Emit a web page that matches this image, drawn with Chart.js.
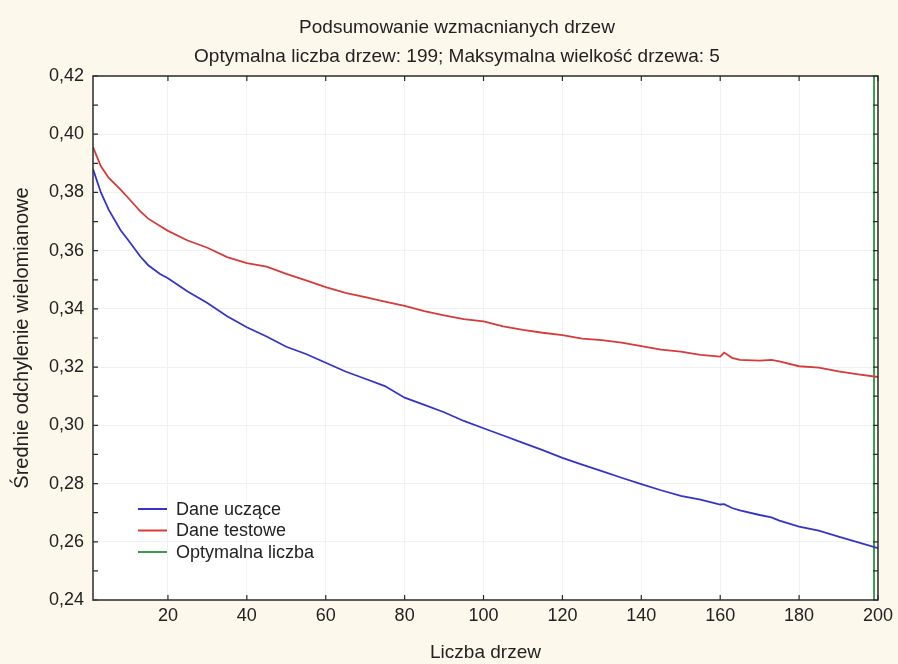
<!DOCTYPE html>
<html>
<head>
<meta charset="utf-8">
<script src="https://cdn.jsdelivr.net/npm/chart.js@4.4.1/dist/chart.umd.min.js"></script>
<style>
  html, body { margin: 0; padding: 0; background: #fcf8ec; }
  #wrap { width: 898px; height: 664px; }
</style>
</head>
<body>
<div id="wrap"><canvas id="chart" width="898" height="664"></canvas></div>
<script>
// number of trees (x) at which values were read
const trees = [1, 3, 5, 8, 10, 13, 15, 18, 20, 25, 30, 35, 40, 45, 50, 55, 60, 65, 70, 75, 80, 85, 90, 95, 100,
  105, 110, 115, 120, 125, 130, 135, 140, 145, 150, 155, 160, 161, 163, 165, 170, 173, 175, 180, 185, 190, 195, 200];

// Dane uczące (training)
const trainValues = [0.388, 0.380, 0.374, 0.367, 0.3635, 0.358, 0.355, 0.352, 0.3505, 0.346, 0.342, 0.3375, 0.3337,
  0.3305, 0.327, 0.3245, 0.3215, 0.3185, 0.316, 0.3135, 0.3095, 0.307, 0.3045, 0.3015, 0.299,
  0.2965, 0.294, 0.2915, 0.2888, 0.2865, 0.2843, 0.282, 0.2798, 0.2777, 0.2758, 0.2745, 0.2728, 0.2729, 0.2716,
  0.2708, 0.2692, 0.2684, 0.2673, 0.2652, 0.2638, 0.2618, 0.2598, 0.2578];

// Dane testowe (test)
const testValues = [0.3956, 0.389, 0.385, 0.381, 0.378, 0.3735, 0.371, 0.3685, 0.3668, 0.3635, 0.361, 0.3578, 0.3557,
  0.3545, 0.352, 0.3498, 0.3475, 0.3455, 0.344, 0.3425, 0.341, 0.3392, 0.3378, 0.3365, 0.3357,
  0.334, 0.3328, 0.3318, 0.331, 0.3298, 0.3293, 0.3284, 0.3272, 0.326, 0.3253, 0.3242, 0.3236, 0.325, 0.3232,
  0.3225, 0.3222, 0.3225, 0.322, 0.3203, 0.3198, 0.3185, 0.3175, 0.3166];

const optimalTrees = 199;
const xTicks = [20, 40, 60, 80, 100, 120, 140, 160, 180, 200];
const yTicks = [0.24, 0.26, 0.28, 0.30, 0.32, 0.34, 0.36, 0.38, 0.40, 0.42];
const yMinorTicks = [0.25, 0.27, 0.29, 0.31, 0.33, 0.35, 0.37, 0.39, 0.41];
const titleLines = ['Podsumowanie wzmacnianych drzew', 'Optymalna liczba drzew: 199; Maksymalna wielkość drzewa: 5'];

const toPoints = (xs, ys) => xs.map((x, i) => ({ x: x, y: ys[i] }));

// background, title, frame, inward tick marks, legend inside plot
const decor = {
  id: 'decor',
  beforeDraw(chart) {
    const { ctx, chartArea: a } = chart;
    ctx.save();
    ctx.fillStyle = '#fcf8ec';
    ctx.fillRect(0, 0, chart.width, chart.height);
    ctx.fillStyle = '#ffffff';
    ctx.fillRect(a.left, a.top, a.right - a.left, a.bottom - a.top);
    ctx.fillStyle = '#222';
    ctx.font = '19px "Liberation Sans", Arial, sans-serif';
    ctx.textAlign = 'center';
    ctx.textBaseline = 'middle';
    titleLines.forEach((t, i) => ctx.fillText(t, 457, 28 + i * 29));
    ctx.restore();
  },
  afterDraw(chart) {
    const { ctx, chartArea: a, scales } = chart;
    ctx.save();
    ctx.strokeStyle = '#2b2b2b';
    ctx.lineWidth = 1.5;
    ctx.strokeRect(a.left, a.top, a.right - a.left, a.bottom - a.top);
    ctx.lineWidth = 1.2;
    ctx.beginPath();
    xTicks.forEach(v => {
      const px = scales.x.getPixelForValue(v);
      ctx.moveTo(px, a.bottom); ctx.lineTo(px, a.bottom - 5);
      ctx.moveTo(px, a.top); ctx.lineTo(px, a.top + 5);
    });
    yTicks.concat(yMinorTicks).forEach(v => {
      const py = scales.y.getPixelForValue(v);
      ctx.moveTo(a.left, py); ctx.lineTo(a.left + 5, py);
      ctx.moveTo(a.right, py); ctx.lineTo(a.right - 5, py);
    });
    ctx.stroke();

    // legend
    const items = chart.data.datasets;
    ctx.font = '18px "Liberation Sans", Arial, sans-serif';
    ctx.textBaseline = 'middle';
    ctx.fillStyle = '#222';
    items.forEach((ds, i) => {
      const y = 509 + i * 21.5;
      ctx.strokeStyle = ds.borderColor;
      ctx.lineWidth = 2;
      ctx.beginPath();
      ctx.moveTo(138, y); ctx.lineTo(167, y);
      ctx.stroke();
      ctx.fillText(ds.label, 176, y + 1);
    });
    ctx.restore();
  }
};

new Chart(document.getElementById('chart'), {
  type: 'line',
  data: {
    datasets: [
      {
        label: 'Dane uczące',
        data: toPoints(trees, trainValues),
        borderColor: '#3434c8',
        borderWidth: 1.8,
        pointRadius: 0,
        tension: 0
      },
      {
        label: 'Dane testowe',
        data: toPoints(trees, testValues),
        borderColor: '#d83a3a',
        borderWidth: 1.8,
        pointRadius: 0,
        tension: 0
      },
      {
        label: 'Optymalna liczba',
        data: [{ x: optimalTrees, y: yTicks[0] }, { x: optimalTrees, y: yTicks[yTicks.length - 1] }],
        borderColor: '#3a9c4c',
        borderWidth: 2,
        pointRadius: 0
      }
    ]
  },
  options: {
    responsive: false,
    animation: false,
    layout: { padding: { left: 0, right: 15, top: 76, bottom: 0 } },
    plugins: {
      legend: { display: false },
      tooltip: { enabled: false },
      title: { display: false }
    },
    scales: {
      x: {
        type: 'linear',
        min: 1,
        max: 200,
        afterBuildTicks: s => { s.ticks = xTicks.map(v => ({ value: v })); },
        afterFit: s => { s.height = 64; },
        grid: { color: '#f1f1f1', drawTicks: false },
        border: { display: false },
        ticks: { color: '#222', padding: 5, maxRotation: 0, font: { family: '"Liberation Sans", Arial, sans-serif', size: 18 } },
        title: {
          display: true,
          text: 'Liczba drzew',
          color: '#222',
          font: { family: '"Liberation Sans", Arial, sans-serif', size: 19 },
          padding: { top: 0, bottom: 0 }
        }
      },
      y: {
        min: 0.24,
        max: 0.42,
        afterBuildTicks: s => { s.ticks = yTicks.map(v => ({ value: v })); },
        afterFit: s => { s.width = 93; },
        grid: { color: '#f1f1f1', drawTicks: false },
        border: { display: false },
        ticks: {
          color: '#222',
          padding: 9,
          font: { family: '"Liberation Sans", Arial, sans-serif', size: 18 },
          callback: v => v.toFixed(2).replace('.', ',')
        },
        title: {
          display: true,
          text: 'Średnie odchylenie wielomianowe',
          color: '#222',
          font: { family: '"Liberation Sans", Arial, sans-serif', size: 20 },
          padding: { top: 10, bottom: 0 }
        }
      }
    }
  },
  plugins: [decor]
});
</script>
</body>
</html>
